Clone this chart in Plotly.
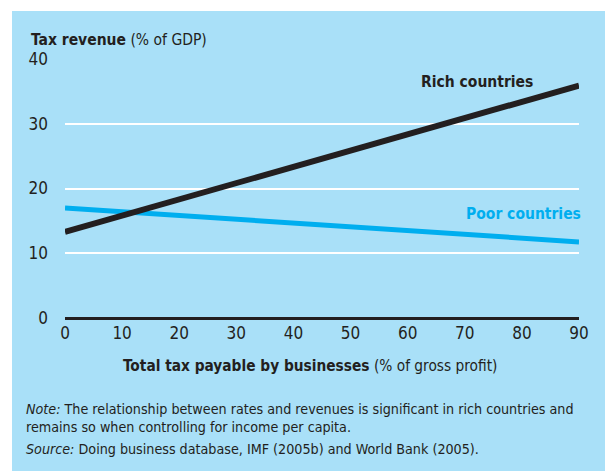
import plotly.graph_objects as go

# fitted lines
tax_payable = [0, 90]
rich_revenue = [13.3, 35.9]
poor_revenue = [17.0, 11.75]

x_ticks = [0, 10, 20, 30, 40, 50, 60, 70, 80, 90]
y_ticks = [0, 10, 20, 30, 40]

BG = "#a9e0f8"
DARK = "#231f20"
BLUE = "#00aeef"
FONT = "Liberation Sans Narrow, DejaVu Sans Condensed, Roboto Condensed, Arial Narrow, sans-serif"

# page body has an 8px margin, so the figure sits 8px in from the window corner
OFF = 8
W, H = 613 - OFF, 471 - OFF
# plot area in window pixels
PL, PR, PT, PB = 65, 579, 59, 317.7
L, R, T, B = PL - OFF, W - (PR - OFF), PT - OFF, H - (PB - OFF)
pw, ph = W - L - R, H - T - B


def px_x(p):
    return (p - OFF - L) / pw


def px_y(p):
    return (H - B - (p - OFF)) / ph


fig = go.Figure()

fig.add_trace(go.Scatter(
    x=tax_payable, y=poor_revenue, mode="lines",
    line=dict(color=BLUE, width=5), name="Poor countries", showlegend=False
))
fig.add_trace(go.Scatter(
    x=tax_payable, y=rich_revenue, mode="lines",
    line=dict(color=DARK, width=6), name="Rich countries", showlegend=False
))

# light blue panel behind everything (white strip on top and left)
fig.add_shape(type="rect", xref="paper", yref="paper",
              x0=px_x(12), x1=px_x(625), y0=px_y(480), y1=px_y(11),
              fillcolor=BG, line_width=0, layer="below")
# bit of the cut-off title above
fig.add_shape(type="rect", xref="paper", yref="paper",
              x0=px_x(391), x1=px_x(395), y0=px_y(3), y1=px_y(0),
              fillcolor=BLUE, line_width=0, layer="below")

fig.add_annotation(text="<b>Rich countries</b>", x=90, y=rich_revenue[1],
                   xref="x", yref="y", xanchor="right", yanchor="middle",
                   xshift=-44, yshift=4, showarrow=False,
                   font=dict(size=15.5, color=DARK, family=FONT))
fig.add_annotation(text="<b>Poor countries</b>", x=90, y=poor_revenue[1],
                   xref="x", yref="y", xanchor="right", yanchor="middle",
                   xshift=4, yshift=28, showarrow=False,
                   font=dict(size=15.5, color=BLUE, family=FONT))

fig.add_annotation(text="<b>Tax revenue</b> (% of GDP)", x=px_x(29), y=px_y(40),
                   xref="paper", yref="paper", xanchor="left", yanchor="middle",
                   showarrow=False, font=dict(size=15.5, color=DARK, family=FONT))
fig.add_annotation(text="<b>Total tax payable by businesses</b> (% of gross profit)",
                   x=px_x(310), y=px_y(366), xref="paper", yref="paper",
                   xanchor="center", yanchor="middle", showarrow=False,
                   font=dict(size=15.3, color=DARK, family=FONT))
fig.add_annotation(
    text="<i>Note:</i> The relationship between rates and revenues is significant in rich countries and<br>"
         "remains so when controlling for income per capita.",
    x=px_x(24), y=px_y(399), xref="paper", yref="paper", xanchor="left", yanchor="top",
    align="left", showarrow=False, font=dict(size=14.2, color=DARK, family=FONT))
fig.add_annotation(
    text="<i>Source:</i> Doing business database, IMF (2005b) and World Bank (2005).",
    x=px_x(24), y=px_y(449), xref="paper", yref="paper", xanchor="left", yanchor="middle",
    align="left", showarrow=False, font=dict(size=14.2, color=DARK, family=FONT))

fig.update_xaxes(range=[0, 90], tickvals=x_ticks, showgrid=False, zeroline=False,
                 showline=False, ticks="", ticklabelstandoff=3,
                 tickfont=dict(size=17, color=DARK, family=FONT))
fig.update_yaxes(range=[0, 40], tickvals=y_ticks, showgrid=True, gridcolor="white",
                 gridwidth=1.5, zeroline=True, zerolinecolor=DARK, zerolinewidth=3,
                 showline=False, ticks="", ticklabelstandoff=16,
                 tickfont=dict(size=17, color=DARK, family=FONT))

fig.update_layout(
    width=W, height=H,
    margin=dict(l=L, r=R, t=T, b=B, autoexpand=False),
    paper_bgcolor="white", plot_bgcolor="rgba(0,0,0,0)",
    showlegend=False,
)

fig.write_html("out.html")
